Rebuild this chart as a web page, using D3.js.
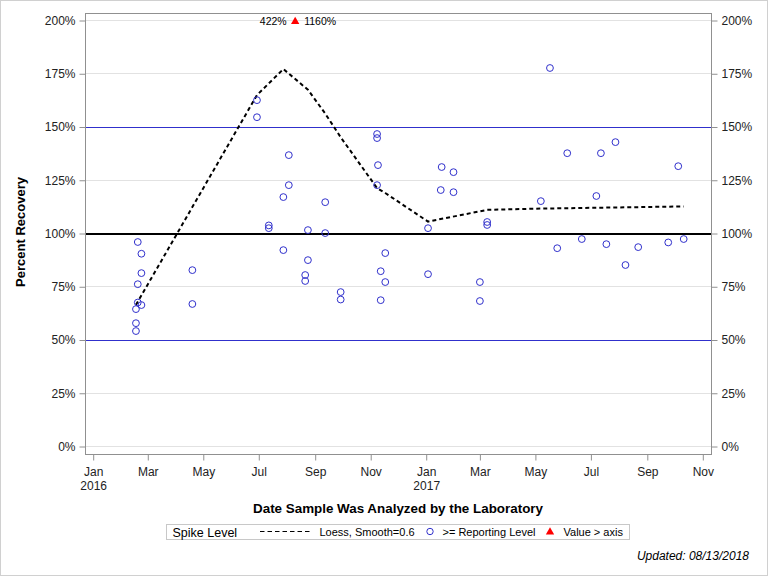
<!DOCTYPE html>
<html>
<head>
<meta charset="utf-8">
<script src="https://cdn.jsdelivr.net/npm/d3@7"></script>
<style>
  body { margin: 0; background: #fff; }
  svg { display: block; font-family: "Liberation Sans", Arial, sans-serif; }
</style>
</head>
<body>
<svg width="768" height="576"></svg>
<script>
const w = 768;
const h = 576;

// sample dates and their percent recoveries
const sampleDates = [
  '2016-02-17', '2016-02-17', '2016-02-17',
  '2016-02-19', '2016-02-19', '2016-02-19',
  '2016-02-23', '2016-02-23', '2016-02-23',
  '2016-04-19', '2016-04-19',
  '2016-06-29', '2016-06-29',
  '2016-07-12', '2016-07-12',
  '2016-07-28', '2016-07-28',
  '2016-08-03', '2016-08-03',
  '2016-08-21', '2016-08-21',
  '2016-08-24', '2016-08-24',
  '2016-09-12', '2016-09-12',
  '2016-09-29', '2016-09-29',
  '2016-11-08', '2016-11-08', '2016-11-08',
  '2016-11-09',
  '2016-11-12', '2016-11-12',
  '2016-11-17', '2016-11-17',
  '2017-01-03', '2017-01-03',
  '2017-01-17', '2017-01-18',
  '2017-01-31', '2017-01-31',
  '2017-03-01', '2017-03-01',
  '2017-03-09', '2017-03-09',
  '2017-05-07', '2017-05-17', '2017-05-25', '2017-06-05', '2017-06-21',
  '2017-07-07', '2017-07-12', '2017-07-18', '2017-07-28', '2017-08-08',
  '2017-08-22', '2017-09-24', '2017-10-05', '2017-10-11'
];
const sampleValues = [
  64.5, 57.9, 54.2,
  96.0, 76.2, 67.6,
  90.5, 81.4, 66.4,
  82.8, 66.9,
  162.6, 154.6,
  103.8, 102.5,
  117.1, 92.2,
  136.8, 122.7,
  80.5, 77.7,
  101.6, 87.5,
  114.7, 100.2,
  72.5, 69.0,
  146.7, 144.8, 122.7,
  132.1,
  82.3, 68.7,
  90.8, 77.2,
  102.5, 80.9,
  120.4, 131.2,
  128.8, 119.4,
  77.2, 68.3,
  105.4, 104.0,
  115.2, 177.7, 93.1, 137.7, 97.4,
  117.6, 137.7, 95.0, 142.9, 85.2,
  93.6, 95.8, 131.6, 97.4
];

// loess fit (smooth = 0.6)
const loessDates = [
  '2016-02-17', '2016-06-29', '2016-07-28', '2016-08-24', '2016-09-12',
  '2016-09-29', '2016-11-08', '2016-11-17', '2017-01-03', '2017-03-09',
  '2017-05-07', '2017-10-11'
];
const loessValues = [
  66.5, 165.0, 177.2, 167.5, 156.3,
  145.2, 121.3, 119.0, 105.6, 111.1,
  111.7, 112.7
];

// values above the axis maximum
const offAxisDate = '2016-08-10';
const offAxisValues = [422, 1160];

const yTicks = [0, 25, 50, 75, 100, 125, 150, 175, 200];
const refLines = [50, 100, 150];

const parse = d3.utcParse('%Y-%m-%d');
const points = sampleDates.map((d, i) => ({ date: parse(d), value: sampleValues[i] }));
const loess = loessDates.map((d, i) => ({ date: parse(d), value: loessValues[i] }));

const blue = '#3030cc';
const frame = { left: 85, right: 711, top: 13, bottom: 454 };

const svg = d3.select('svg');

// outer border
svg.append('rect')
  .attr('x', 0.5).attr('y', 0.5)
  .attr('width', w - 1).attr('height', h - 1)
  .attr('fill', '#fff')
  .attr('stroke', '#d0d0d0');

const x = d3.scaleUtc()
  .domain([parse('2015-12-23'), parse('2017-11-10')])
  .range([frame.left, frame.right]);

const y = d3.scaleLinear()
  .domain([0, 200])
  .range([446.5, 20.5]);

// snap horizontal rules to the pixel grid
const crisp = v => Math.round(y(v) - 0.5) + 0.5;

// gridlines
svg.append('g')
  .selectAll('line')
  .data(yTicks)
  .enter()
  .append('line')
  .attr('x1', frame.left).attr('x2', frame.right)
  .attr('y1', crisp).attr('y2', crisp)
  .attr('stroke', '#e2e2e2');

// reference lines
svg.append('g')
  .selectAll('line')
  .data(refLines)
  .enter()
  .append('line')
  .attr('x1', frame.left).attr('x2', frame.right)
  .attr('y1', d => d === 100 ? Math.round(y(d)) : crisp(d))
  .attr('y2', d => d === 100 ? Math.round(y(d)) : crisp(d))
  .attr('stroke', d => d === 100 ? '#000' : blue)
  .attr('stroke-width', d => d === 100 ? 2 : 1);

// frame
svg.append('rect')
  .attr('x', frame.left + 0.5).attr('y', frame.top + 0.5)
  .attr('width', frame.right - frame.left).attr('height', frame.bottom - frame.top)
  .attr('fill', 'none')
  .attr('stroke', '#909090');

const axisStyle = g => {
  g.select('.domain').remove();
  g.selectAll('.tick line').attr('stroke', '#909090');
  g.selectAll('.tick text')
    .attr('fill', '#222')
    .style('font-size', '12px')
    .style('font-family', '"Liberation Sans", Arial, sans-serif');
};

svg.append('g')
  .attr('transform', `translate(${frame.left + 0.5},0)`)
  .call(d3.axisLeft(y).tickValues(yTicks).tickSize(6).tickPadding(4).tickFormat(d => d + '%'))
  .call(axisStyle);

svg.append('g')
  .attr('transform', `translate(${frame.right + 0.5},0)`)
  .call(d3.axisRight(y).tickValues(yTicks).tickSize(6).tickPadding(4).tickFormat(d => d + '%'))
  .call(axisStyle);

const xAxis = svg.append('g')
  .attr('transform', `translate(0,${frame.bottom + 0.5})`)
  .call(d3.axisBottom(x)
    .ticks(d3.utcMonth.every(2))
    .tickSize(6)
    .tickPadding(7)
    .tickFormat(d3.utcFormat('%b')))
  .call(axisStyle);

// add the year under each January
xAxis.selectAll('.tick text')
  .filter(d => d.getUTCMonth() === 0)
  .append('tspan')
  .attr('x', 0)
  .attr('dy', '1.2em')
  .text(d => d.getUTCFullYear());

// loess line
svg.append('path')
  .datum(loess)
  .attr('fill', 'none')
  .attr('stroke', '#000')
  .attr('stroke-width', 2)
  .attr('stroke-dasharray', '4,3')
  .attr('d', d3.line().x(d => x(d.date)).y(d => y(d.value)));

// sample points
svg.append('g')
  .selectAll('circle')
  .data(points)
  .enter()
  .append('circle')
  .attr('cx', d => x(d.date))
  .attr('cy', d => y(d.value))
  .attr('r', 3.4)
  .attr('fill', 'none')
  .attr('stroke', blue);

// off-axis marker with its values
const ox = x(parse(offAxisDate));
svg.append('path')
  .attr('d', d3.symbol(d3.symbolTriangle).size(30))
  .attr('transform', `translate(${ox},${y(200) + 1})`)
  .attr('fill', '#ff0000');

svg.append('text')
  .attr('x', ox - 8.5).attr('y', 24.5)
  .attr('text-anchor', 'end')
  .style('font-size', '10.5px')
  .text(offAxisValues[0] + '%');

svg.append('text')
  .attr('x', ox + 9).attr('y', 24.5)
  .style('font-size', '10.5px')
  .text(offAxisValues[1] + '%');

// axis titles
svg.append('text')
  .attr('x', (frame.left + frame.right) / 2)
  .attr('y', 513)
  .attr('text-anchor', 'middle')
  .style('font-size', '13.4px')
  .style('font-weight', 'bold')
  .text('Date Sample Was Analyzed by the Laboratory');

svg.append('text')
  .attr('transform', 'translate(25,232) rotate(-90)')
  .attr('text-anchor', 'middle')
  .style('font-size', '13px')
  .style('font-weight', 'bold')
  .text('Percent Recovery');

// legend
const legend = svg.append('g').attr('class', 'legend');

legend.append('rect')
  .attr('x', 166.5).attr('y', 524.5)
  .attr('width', 463).attr('height', 15)
  .attr('fill', '#fff')
  .attr('stroke', '#c8c8c8');

legend.append('text')
  .attr('x', 172.5).attr('y', 536.5)
  .style('font-size', '12.5px')
  .text('Spike Level');

legend.append('line')
  .attr('x1', 260).attr('x2', 312)
  .attr('y1', 531.5).attr('y2', 531.5)
  .attr('stroke', '#000')
  .attr('stroke-dasharray', '4.5,3');

legend.append('text')
  .attr('x', 319.5).attr('y', 535.5)
  .style('font-size', '11px')
  .text('Loess, Smooth=0.6');

legend.append('circle')
  .attr('cx', 430).attr('cy', 531.5)
  .attr('r', 3.2)
  .attr('fill', 'none')
  .attr('stroke', blue);

legend.append('text')
  .attr('x', 442.5).attr('y', 535.5)
  .style('font-size', '11px')
  .text('>= Reporting Level');

legend.append('path')
  .attr('d', d3.symbol(d3.symbolTriangle).size(30))
  .attr('transform', 'translate(550,532)')
  .attr('fill', '#ff0000');

legend.append('text')
  .attr('x', 563.5).attr('y', 535.5)
  .style('font-size', '11px')
  .text('Value > axis');

svg.append('text')
  .attr('x', 749).attr('y', 560)
  .attr('text-anchor', 'end')
  .style('font-size', '12px')
  .style('font-style', 'italic')
  .text('Updated: 08/13/2018');
</script>
</body>
</html>
